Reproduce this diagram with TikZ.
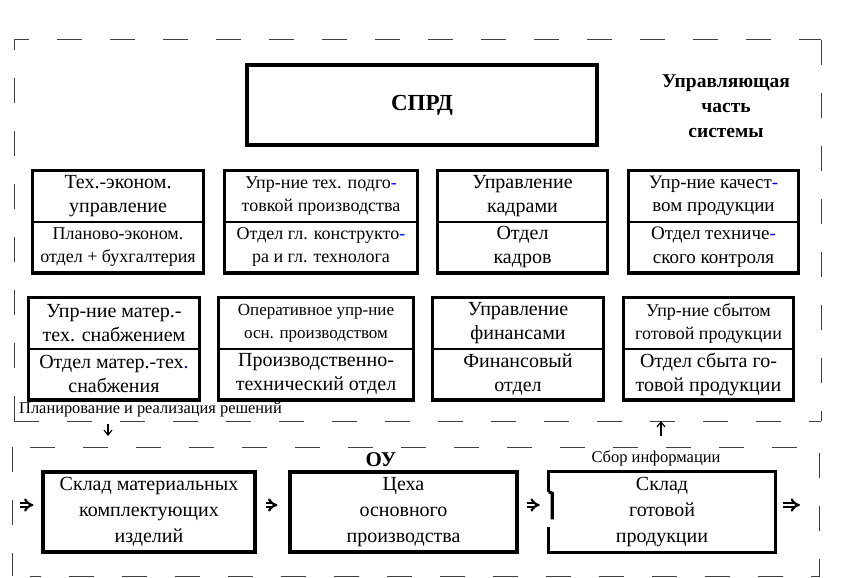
\documentclass[tikz,border=0pt]{standalone}
\usepackage{fontspec}
\setmainfont{Liberation Serif}
\usetikzlibrary{positioning,fit,arrows.meta}

\begin{document}
\begin{tikzpicture}[x=1pt,y=-1pt,
  frame/.style={black!75, line width=1pt, dash pattern=on 25pt off 28pt},
  part/.style={draw, line width=0.8pt, minimum width=#1, minimum height=50.5pt,
    inner sep=0pt, align=center, font=\fontsize{20}{24}\selectfont},
  f19/.style={font=\fontsize{19}{23.5}\selectfont},
  f18/.style={font=\fontsize{18}{23}\selectfont},
  f17/.style={font=\fontsize{17}{23}\selectfont},
  unit/.style={draw, line width=3.2pt, inner sep=0pt},
  edge/.style={line width=3.2pt},
  flow/.style={double, double distance=2pt, line width=2.2pt, -{Implies[scale=1.3]}},
  tip/.style={line width=1.2pt, -{Straight Barb[length=5pt,width=8pt]}},
  txt/.style={align=center, font=\fontsize{20}{26}\selectfont}]
\useasboundingbox (0,0) rectangle (865,578);

% dashed frames
\draw[frame] (14,421) -- (14,40) -- (821,40);
\draw[frame] (821,40) -- (821,421);
\draw[frame] (14,421) -- (821,421);
\draw[frame] (30,447) -- (819,447) -- (819,576) -- (30,576);
\draw[frame] (12,447) -- (12,576);

% top
\node[unit, minimum width=350pt, minimum height=80pt,
  font=\bfseries\fontsize{23}{26}\selectfont] (sprd) at (422,105) {СПРД};
\node[align=center, font=\bfseries\fontsize{19.5}{25}\selectfont] (ctl) at (726,106)
  {Управляющая\\часть\\системы};

% row 1
\node[part=170pt] (tech) at (118,196) {Тех.-эконом.\\управление};
\node[part=170pt, f18, below=0pt of tech] (techdep) {Планово-эконом.\\отдел + бухгалтерия};
\node[unit, fit=(tech)(techdep)] (techbox) {};

\node[part=192pt, f18] (prep) at (321,196) {Упр-ние тех. подго\textcolor{blue}{-}\\товкой производства};
\node[part=192pt, f18, below=0pt of prep] (prepdep) {Отдел гл. конструкто\textcolor{blue}{-}\\ра и гл. технолога};
\node[unit, fit=(prep)(prepdep)] (prepbox) {};

\node[part=169pt] (staff) at (522.5,196) {Управление\\кадрами};
\node[part=169pt, below=0pt of staff] (staffdep) {Отдел\\кадров};
\node[unit, fit=(staff)(staffdep)] (staffbox) {};

\node[part=169pt, f19] (qual) at (713.5,196) {Упр-ние качест\textcolor{blue}{-}\\вом продукции};
\node[part=169pt, f19, below=0pt of qual] (qualdep) {Отдел техниче\textcolor{blue}{-}\\ского контроля};
\node[unit, fit=(qual)(qualdep)] (qualbox) {};

% row 2
\node[part=170pt] (supp) at (114,323) {Упр-ние матер.-\\тех. снабжением};
\node[part=170pt, below=0pt of supp] (suppdep) {Отдел матер.-тех\textcolor{blue}{.}\\снабжения};
\node[unit, fit=(supp)(suppdep)] (suppbox) {};

\node[part=194pt, f17] (oper) at (316,323) {Оперативное упр-ние\\осн. производством};
\node[part=194pt, below=0pt of oper] (operdep) {Производственно-\\технический отдел};
\node[unit, fit=(oper)(operdep)] (operbox) {};

\node[part=170pt] (fin) at (518,323) {Управление\\финансами};
\node[part=170pt, below=0pt of fin] (findep) {Финансовый\\отдел};
\node[unit, fit=(fin)(findep)] (finbox) {};

\node[part=169pt, f18] (sale) at (708.5,323) {Упр-ние сбытом\\готовой продукции};
\node[part=169pt, below=0pt of sale] (saledep) {Отдел сбыта го-\\товой продукции};
\node[unit, fit=(sale)(saledep)] (salebox) {};

%labels
\node[font=\fontsize{16.4}{18}\selectfont] (plan) at (150.5,410) {Планирование и реализация решений};
\node[font=\fontsize{16.5}{18}\selectfont] (info) at (656,458) {Сбор информации};
\node[font=\bfseries\fontsize{21}{23}\selectfont] (ou) at (381,460) {ОУ};
\coordinate (down) at (108,436);
\coordinate (upfoot) at (661,436);
\coordinate (up) at (661,421);
\draw[tip, shorten <=3pt] (plan.south -| down) -- (down);
\draw[tip] (upfoot) -- (up);

% bottom chain
\node[unit, txt, minimum width=212pt, minimum height=80pt] (store) at (149,512)
  {Склад материальных\\комплектующих\\изделий};
\node[unit, txt, minimum width=227pt, minimum height=80pt] (shops) at (403.5,512)
  {Цеха\\основного\\производства};
\node[txt, minimum width=226pt, minimum height=80pt] (goods) at (662,512)
  {Склад\\готовой\\продукции};
\draw[edge] ([shift={(0,20)}]goods.north west) -- (goods.north west) -- (goods.north east)
  -- (goods.south east) -- (goods.south west) -- ++(0,-25);
\draw[edge] ([shift={(0,20)}]goods.north west) -- ++(3.5,1.5) -- ++(0,26);

\coordinate (in) at (20,505);
\coordinate (out) at (800,505);
\draw[flow, shorten >=8pt] (in) -- (store.west |- in);
\draw[flow, shorten <=9pt, shorten >=11pt] (store.east |- in) -- (shops.west |- in);
\draw[flow, shorten <=8pt, shorten >=9pt] (shops.east |- in) -- (goods.west |- in);
\draw[flow, shorten <=8pt] (goods.east |- in) -- (out);

\end{tikzpicture}
\end{document}
